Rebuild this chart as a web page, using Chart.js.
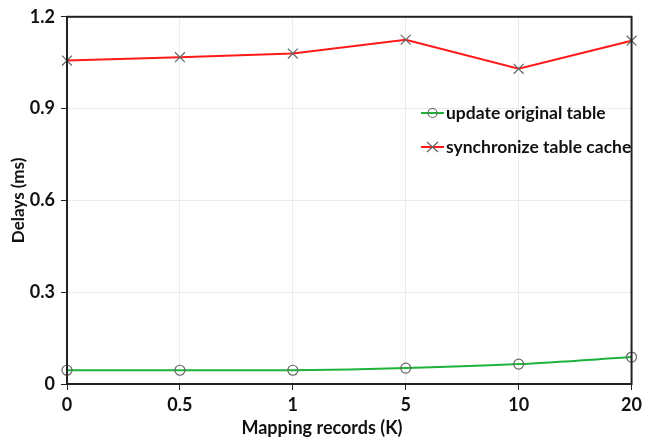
<!DOCTYPE html>
<html>
<head>
<meta charset="utf-8">
<script src="https://cdn.jsdelivr.net/npm/chart.js@4/dist/chart.umd.min.js"></script>
<style>
  html, body { margin: 0; padding: 0; background: #fff; }
  #wrap { width: 646px; height: 441px; }
</style>
</head>
<body>
<div id="wrap"><canvas id="delays"></canvas></div>
<script>
var records = ["0", "0.5", "1", "5", "10", "20"];
var updateOriginal = [0.045, 0.045, 0.045, 0.052, 0.065, 0.088];
var syncCache = [1.057, 1.068, 1.080, 1.125, 1.030, 1.122];
var yTicks = [0, 0.3, 0.6, 0.9, 1.2];

var font = "Lato, 'Open Sans', sans-serif";

// box round the plot, legend inside the plot, x title (sits left of centre)
var framePlugin = {
    id: 'frame',
    afterDraw: function (chart) {
        var ctx = chart.ctx;
        var a = chart.chartArea;
        ctx.save();
        ctx.strokeStyle = '#222';
        ctx.lineWidth = 2;
        ctx.strokeRect(a.left, a.top, a.right - a.left, a.bottom - a.top);

        var items = [
            { text: 'update original table', color: '#1db33a', mark: 'circle', y: 113 },
            { text: 'synchronize table cache', color: '#ff1a1a', mark: 'cross', y: 147 }
        ];
        items.forEach(function (it) {
            ctx.strokeStyle = it.color;
            ctx.lineWidth = 2;
            ctx.beginPath();
            ctx.moveTo(421, it.y);
            ctx.lineTo(444, it.y);
            ctx.stroke();
            ctx.strokeStyle = '#666';
            ctx.lineWidth = 1.2;
            ctx.beginPath();
            if (it.mark === 'circle') {
                ctx.arc(432.5, it.y, 4.5, 0, Math.PI * 2);
            } else {
                ctx.moveTo(427, it.y - 5); ctx.lineTo(438, it.y + 5);
                ctx.moveTo(427, it.y + 5); ctx.lineTo(438, it.y - 5);
            }
            ctx.stroke();
            ctx.fillStyle = '#111';
            ctx.font = 'bold 17.5px ' + font;
            ctx.textBaseline = 'middle';
            ctx.textAlign = 'left';
            ctx.fillText(it.text, 446, it.y);
        });

        ctx.fillStyle = '#111';
        ctx.font = 'bold 18px ' + font;
        ctx.textAlign = 'center';
        ctx.textBaseline = 'middle';
        ctx.fillText('Mapping records (K)', 322, 428);
        ctx.restore();
    }
};

var ctx = document.getElementById('delays').getContext('2d');
var delayChart = new Chart(ctx, {
    type: 'line',
    data: {
        labels: records,
        datasets: [
            {
                label: 'update original table',
                data: updateOriginal,
                borderColor: '#1db33a',
                borderWidth: 2,
                tension: 0.3,
                pointStyle: 'circle',
                pointRadius: 5,
                pointBorderColor: '#666',
                pointBorderWidth: 1.2,
                pointBackgroundColor: 'rgba(0,0,0,0)'
            },
            {
                label: 'synchronize table cache',
                data: syncCache,
                borderColor: '#ff1a1a',
                borderWidth: 2,
                tension: 0,
                pointStyle: 'crossRot',
                pointRadius: 7,
                pointBorderColor: '#666',
                pointBorderWidth: 1.2
            }
        ]
    },
    options: {
        responsive: true,
        maintainAspectRatio: false,
        animation: false,
        layout: { padding: { top: 14, right: 8, left: 0, bottom: 0 } },
        plugins: {
            legend: { display: false },
            tooltip: { enabled: false }
        },
        scales: {
            x: {
                offset: false,
                grid: {
                    color: '#ececec',
                    tickColor: '#222',
                    tickLength: 6,
                    lineWidth: 1
                },
                border: { color: '#222', width: 2 },
                ticks: {
                    color: '#111',
                    font: { family: font, size: 18, weight: 'bold' },
                    padding: 4,
                    maxRotation: 0
                },
                afterFit: function (scale) { scale.height = 57; }
            },
            y: {
                min: 0,
                max: 1.2,
                grid: {
                    color: '#ececec',
                    tickColor: '#222',
                    tickLength: 6,
                    lineWidth: 1
                },
                border: { color: '#222', width: 2 },
                afterBuildTicks: function (scale) {
                    scale.ticks = yTicks.map(function (v) { return { value: v }; });
                },
                ticks: {
                    color: '#111',
                    font: { family: font, size: 18, weight: 'bold' },
                    padding: 6,
                    callback: function (v) { return String(v); }
                },
                title: {
                    display: true,
                    text: 'Delays (ms)',
                    color: '#111',
                    font: { family: font, size: 17, weight: 'bold' },
                    padding: { top: 8, bottom: 0 }
                },
                afterFit: function (scale) { scale.width = 67; }
            }
        }
    },
    plugins: [framePlugin]
});
</script>
</body>
</html>
